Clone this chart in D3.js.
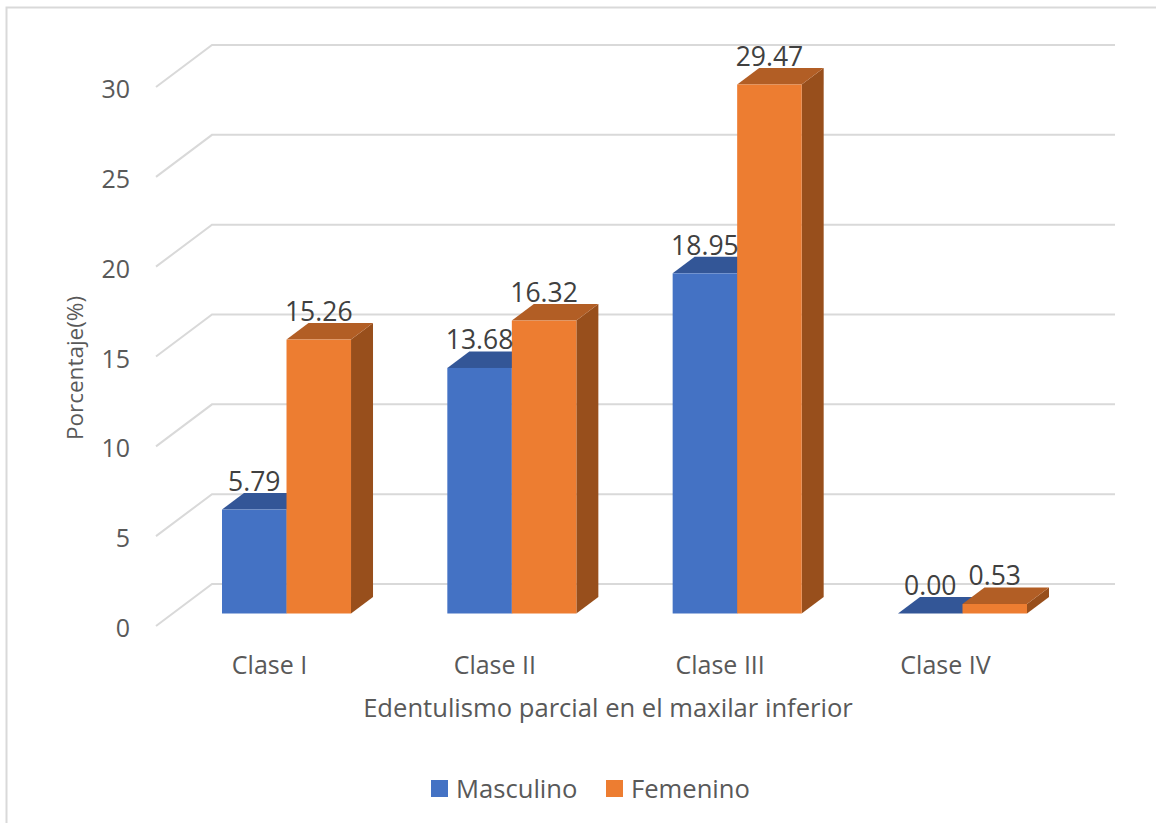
<!DOCTYPE html>
<html lang="es">
<head>
<meta charset="utf-8">
<title>Edentulismo parcial en el maxilar inferior</title>
<script src="https://cdnjs.cloudflare.com/ajax/libs/d3/7.8.5/d3.min.js"></script>
<style>
  html, body { margin: 0; padding: 0; background: #fff; }
  svg, svg text { display: block; font-family: "Open Sans", sans-serif; }
  .axis text { fill: #595959; }
  .axis .domain, .axis .tick line { display: none; }
</style>
</head>
<body>
<svg id="chart" width="1156" height="823"></svg>
<script>
// Chart values
const categories = ["Clase I", "Clase II", "Clase III", "Clase IV"];
const seriesNames = ["Masculino", "Femenino"];
const masculino = [5.79, 13.68, 18.95, 0.00];
const femenino = [15.26, 16.32, 29.47, 0.53];
const yTicks = [0, 5, 10, 15, 20, 25, 30];
const xTitle = "Edentulismo parcial en el maxilar inferior";
const yTitle = "Porcentaje(%)";

// Face colours per series: front, top, side
const faces = {
  Masculino: { front: "#4472c4", top: "#335697", side: "#2a4a85" },
  Femenino: { front: "#ed7d31", top: "#b25e25", side: "#984f1c" }
};

// Oblique projection used for the fake 3D box
const depthX = 22, depthY = -16.5;

const svg = d3.select("#chart");

// Chart frame: open on the right and the bottom
svg.append("path")
  .attr("d", "M1156,7.5H6.5V823")
  .attr("fill", "none").attr("stroke", "#d9d9d9").attr("stroke-width", 2);

const yFloor = d3.scaleLinear().domain([0, 30]).range([626, 87]);   // front edge of the wall grid
const yBar = d3.scaleLinear().domain([0, 30]).range([613.5, 75]);   // front plane of the boxes

const x0 = d3.scaleBand().domain(categories).range([222, 1027]).paddingInner(0.4274);
const x1 = d3.scaleBand().domain(seriesNames).range([0, x0.bandwidth()]);

// Grid: slanted side wall segment then the back wall line
const gridLine = d3.line();
svg.append("g").selectAll("path").data(yTicks).join("path")
  .attr("d", v => gridLine([[156, yFloor(v)], [212, yFloor(v) - 42], [1115, yFloor(v) - 42]]))
  .attr("fill", "none").attr("stroke", "#d9d9d9").attr("stroke-width", 2);

// Boxes
const rows = categories.map((c, i) => ({
  category: c,
  bars: [
    { name: "Masculino", value: masculino[i] },
    { name: "Femenino", value: femenino[i] }
  ]
}));

const groups = svg.append("g").selectAll("g").data(rows).join("g")
  .attr("transform", d => `translate(${x0(d.category)},0)`);

const bars = groups.selectAll("g").data(d => d.bars).join("g");
const base = yBar(0);
const w = x1.bandwidth();

bars.append("path") // side face
  .attr("fill", d => faces[d.name].side)
  .attr("d", d => {
    const l = x1(d.name) + w, t = yBar(d.value);
    return `M${l},${t}L${l + depthX},${t + depthY}L${l + depthX},${base + depthY}L${l},${base}Z`;
  });
bars.append("path") // top face
  .attr("fill", d => faces[d.name].top)
  .attr("d", d => {
    const l = x1(d.name), t = yBar(d.value);
    return `M${l},${t}L${l + depthX},${t + depthY}L${l + w + depthX},${t + depthY}L${l + w},${t}Z`;
  });
bars.append("rect") // front face
  .attr("fill", d => faces[d.name].front)
  .attr("x", d => x1(d.name))
  .attr("y", d => yBar(d.value))
  .attr("width", w)
  .attr("height", d => base - yBar(d.value));

// Value labels sit just above the back edge of each box
const labels = svg.append("g");
rows.forEach(r => r.bars.forEach(b => {
  labels.append("text")
    .attr("x", x0(r.category) + x1(b.name) + w / 2)
    .attr("y", yBar(b.value) + depthY - 2)
    .attr("text-anchor", "middle")
    .attr("font-size", 26.5)
    .attr("fill", "#404040")
    .text(b.value.toFixed(2));
}));

// Axes
const yAxis = d3.axisLeft(yFloor).tickValues(yTicks).tickFormat(d3.format("d")).tickPadding(0).tickSize(0);
svg.append("g").attr("class", "axis")
  .attr("transform", "translate(130,1.5)")
  .call(yAxis)
  .call(g => g.attr("font-family", null).selectAll("text").attr("font-size", 25).attr("dy", "0.36em"));

const xAxis = d3.axisBottom(x0).tickPadding(0).tickSize(0);
svg.append("g").attr("class", "axis")
  .attr("transform", "translate(-17,656)")
  .call(xAxis)
  .call(g => g.attr("font-family", null).selectAll("text").attr("font-size", 25).attr("dy", "0.71em"));

// Axis titles
svg.append("text")
  .attr("x", 608).attr("y", 717)
  .attr("text-anchor", "middle").attr("font-size", 25.6).attr("fill", "#595959")
  .text(xTitle);
svg.append("text")
  .attr("transform", "translate(83,368) rotate(-90)")
  .attr("text-anchor", "middle").attr("font-size", 22.5).attr("fill", "#595959")
  .text(yTitle);

// Legend
const legendX = d3.scaleOrdinal().domain(seriesNames).range([431, 606]);
const legend = svg.append("g").selectAll("g").data(seriesNames).join("g")
  .attr("transform", d => `translate(${legendX(d)},780)`);
legend.append("rect")
  .attr("width", 17).attr("height", 17)
  .attr("fill", d => faces[d].front);
legend.append("text")
  .attr("x", 25).attr("y", 18)
  .attr("font-size", 25.6).attr("fill", "#595959")
  .text(d => d);
</script>
</body>
</html>
